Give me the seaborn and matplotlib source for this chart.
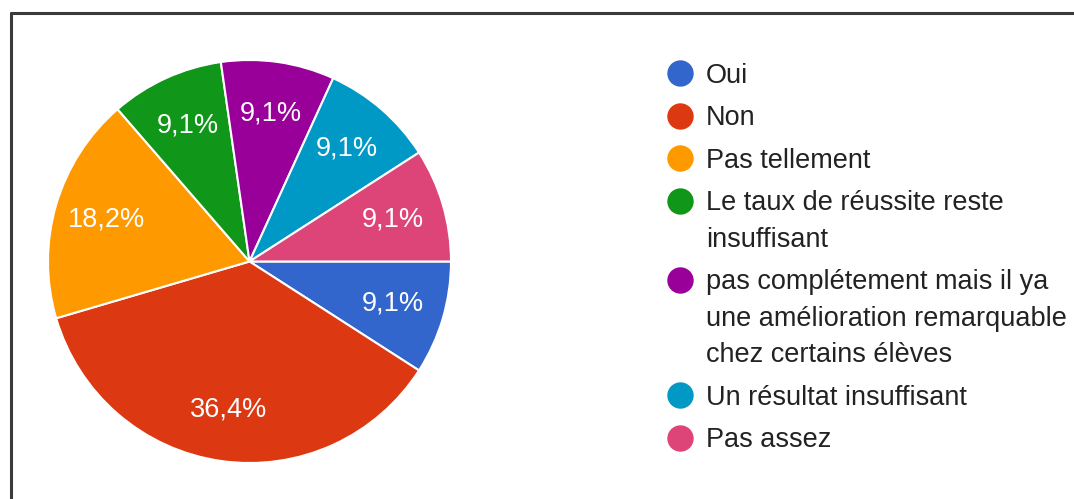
import matplotlib
matplotlib.use("Agg")
import matplotlib.pyplot as plt
from matplotlib.lines import Line2D
import seaborn as sns

# Survey answers and their counts (11 respondents)
categories = [
    "Oui",
    "Non",
    "Pas tellement",
    "Le taux de réussite reste\ninsuffisant",
    "pas complétement mais il ya\nune amélioration remarquable\nchez certains élèves",
    "Un résultat insuffisant",
    "Pas assez",
]
counts = [1, 4, 2, 1, 1, 1, 1]
palette = ["#3366CC", "#DC3912", "#FF9900", "#109618", "#990099", "#0099C6", "#DD4477"]

sns.set_theme(style="white")
plt.rcParams["font.family"] = ["Liberation Sans", "DejaVu Sans"]

W, H = 1074, 499
fig = plt.figure(figsize=(W / 100, H / 100), dpi=100)
fig.patch.set_facecolor("white")

# Pie area
cx, cy, r = 249.5, 499 - 261.5, 201.5
ax = fig.add_axes([(cx - r) / W, (cy - r) / H, 2 * r / W, 2 * r / H])
colors = sns.color_palette(palette)

wedges, texts, autotexts = ax.pie(
    counts,
    colors=colors,
    startangle=0,
    counterclock=False,
    autopct=lambda p: f"{p:.1f}%".replace(".", ","),
    pctdistance=0.74,
    wedgeprops=dict(edgecolor="white", linewidth=1.5),
    textprops=dict(color="white", fontsize=19.5),
)
ax.set_xlim(-1, 1)
ax.set_ylim(-1, 1)
ax.set_aspect("equal")
ax.axis("off")

# Legend on the right: round marker beside the first line of each entry
legend_fs = 19.5
fs_px = legend_fs * 100 / 72
marker_x, text_x = 680, 706
row_y = 73            # centre of the first legend line, px from top
line_step = 36.5      # between wrapped lines of one entry
item_step = 42.5      # between consecutive entries
for label, c in zip(categories, colors):
    lines = label.split("\n")
    fig.add_artist(Line2D([marker_x / W], [1 - row_y / H], marker="o", linestyle="",
                          markersize=18, markerfacecolor=c, markeredgecolor=c,
                          transform=fig.transFigure))
    y = row_y
    for ln in lines:
        fig.text(text_x / W, 1 - (y + 0.36 * fs_px) / H, ln, fontsize=legend_fs,
                 color="#222222", ha="left", va="baseline")
        y += line_step
    row_y += line_step * (len(lines) - 1) + item_step

# Dark frame along the top and left edges
frame_kw = dict(color="#3a3a3a", linewidth=2.2, transform=fig.transFigure)
fig.add_artist(Line2D([10.5 / W, 1.0], [1 - 12.5 / H, 1 - 12.5 / H], **frame_kw))
fig.add_artist(Line2D([10.5 / W, 10.5 / W], [0.0, 1 - 12.5 / H], **frame_kw))

fig.savefig("out.png", dpi=100, facecolor="white")
